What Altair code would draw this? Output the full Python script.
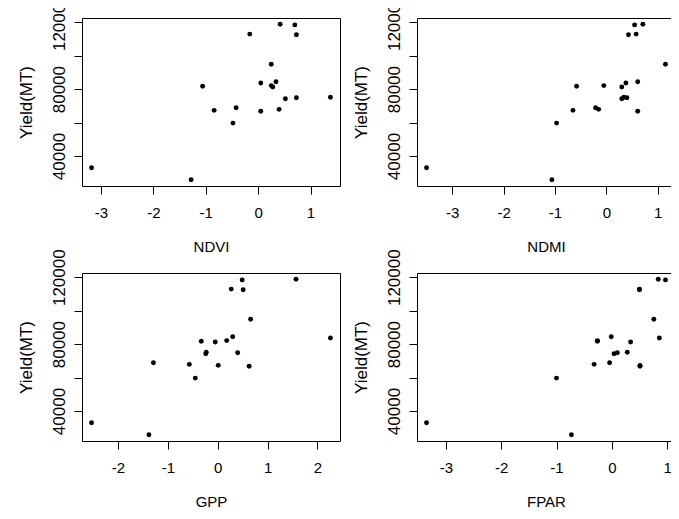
import altair as alt
import pandas as pd

yield_mt = [33000, 25800, 81700, 67300, 59700, 68900, 112900, 83700, 66800, 94900,
            82100, 81300, 84400, 67900, 118800, 74200, 118400, 112500, 74800, 75100]
ndvi = [-3.18, -1.28, -1.06, -0.84, -0.48, -0.42, -0.16, 0.05, 0.05, 0.25,
        0.25, 0.28, 0.34, 0.40, 0.42, 0.52, 0.70, 0.73, 0.73, 1.38]
ndmi = [-3.50, -1.06, -0.58, -0.65, -0.97, -0.21, 0.58, 0.38, 0.61, 1.15,
        -0.05, 0.30, 0.61, -0.15, 0.71, 0.30, 0.55, 0.43, 0.40, 0.34]
gpp = [-2.53, -1.38, -0.33, 0.01, -0.45, -1.29, 0.27, 2.26, 0.63, 0.66,
       0.18, -0.05, 0.30, -0.57, 1.57, -0.24, 0.49, 0.51, 0.40, -0.23]
fpar = [-3.35, -0.73, -0.26, 0.51, -1.00, -0.04, 0.50, 0.86, 0.51, 0.76,
        -0.26, 0.34, -0.01, -0.32, 0.84, 0.04, 0.97, 0.50, 0.10, 0.28]

panels = ["NDVI", "NDMI", "GPP", "FPAR"]
x_ticks = {
    "NDVI": [-3, -2, -1, 0, 1],
    "NDMI": [-3, -2, -1, 0, 1],
    "GPP": [-2, -1, 0, 1, 2],
    "FPAR": [-3, -2, -1, 0, 1],
}
y_ticks = [40000, 60000, 80000, 100000, 120000]
y_labels = [40000, 80000, 120000]
y_title = "Yield(MT)"

df = pd.DataFrame({"Yield": yield_mt, "NDVI": ndvi, "NDMI": ndmi, "GPP": gpp, "FPAR": fpar})


def r_range(vals):
    lo, hi = min(vals), max(vals)
    pad = 0.04 * (hi - lo)
    return [lo - pad, hi + pad]


FONT = "Liberation Sans"
W, H = 258, 168
y_dom = r_range(yield_mt)
label_list = ", ".join(str(v) for v in y_labels)


def panel(col):
    return alt.Chart(df).mark_circle(size=24, color="black", opacity=1).encode(
        x=alt.X(
            f"{col}:Q",
            title=col,
            scale=alt.Scale(domain=r_range(df[col].tolist()), nice=False, zero=False),
            axis=alt.Axis(
                values=x_ticks[col], labelExpr="datum.value + ''",
                domain=False, grid=False, tickSize=8, tickColor="black", tickWidth=1,
                labelFont=FONT, labelFontSize=15, labelColor="black",
                labelPadding=23, labelBaseline="alphabetic", labelAngle=0,
                labelFlush=False, labelOverlap=False,
                titleFont=FONT, titleFontSize=15, titleFontWeight="normal", titleColor="black",
                titleX=W / 2, titleY=65, titleAlign="center", titleBaseline="alphabetic",
            ),
        ),
        y=alt.Y(
            "Yield:Q",
            title=y_title,
            scale=alt.Scale(domain=y_dom, nice=False, zero=False),
            axis=alt.Axis(
                values=y_ticks,
                labelExpr=f"indexof([{label_list}], datum.value) >= 0 ? datum.value + '' : ''",
                domain=False, grid=False, tickSize=8, tickColor="black", tickWidth=1,
                labelFont=FONT, labelFontSize=17, labelColor="black",
                labelAngle=270, labelAlign="center", labelBaseline="alphabetic",
                labelPadding=9.7, labelFlush=False, labelOverlap=False,
                titleFont=FONT, titleFontSize=17, titleFontWeight="normal", titleColor="black",
                titleAngle=270, titleX=-51, titleY=H / 2, titleAlign="center",
                titleBaseline="alphabetic",
            ),
        ),
    ).properties(width=W, height=H)


chart = alt.concat(
    *[panel(p) for p in panels], columns=2, spacing={"row": 87, "column": 77}
).properties(
    bounds="flush",
    padding={"left": 8, "top": -15, "right": -5, "bottom": 0},
    background="white",
).configure_view(stroke="black", strokeWidth=1)

chart.save("out.html", embed_options={"renderer": "svg", "actions": False})
